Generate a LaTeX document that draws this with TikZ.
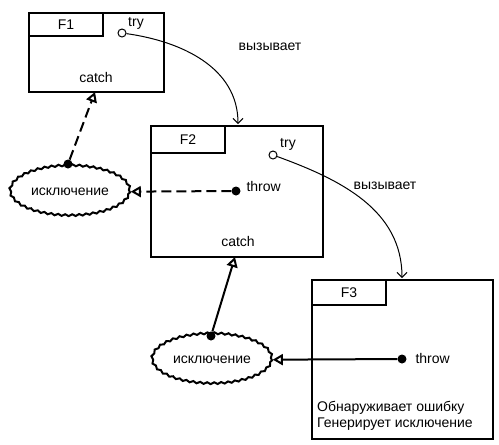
\documentclass[tikz,border=0pt]{standalone}
\usepackage{fontspec}
\setmainfont{Liberation Sans}
\usetikzlibrary{arrows.meta,shapes.geometric,decorations.pathmorphing}

\begin{document}
\begin{tikzpicture}
[x=1pt,y=-1pt,font=\fontsize{14}{16}\selectfont]
\tikzset{
	fbox/.style = {draw, line width=2pt, anchor=north west, inner sep=0},
	tabbox/.style = {draw, line width=2pt, anchor=north west, inner sep=0, minimum width=74pt, minimum height=25pt},
	trynode/.style = {circle, draw, line width=1pt, inner sep=0, minimum size=8pt, fill=white},
	dot/.style = {circle, fill, inner sep=0, minimum size=9pt},
	exc/.style = {ellipse, draw, line width=2pt, minimum width=116pt, minimum height=50pt, decorate, decoration={snake, amplitude=0.9pt, segment length=7pt}},
	call/.style = {-{Straight Barb[length=5pt,width=10pt]}, line width=1pt},
	raise/.style = {-{Triangle[open,length=10pt,width=11pt]}, line width=2pt},
	raisedash/.style = {raise, dash pattern=on 10pt off 5pt}
}
\useasboundingbox (0,0) rectangle (499,445);

% F1
\node[fbox, minimum width=135pt, minimum height=79pt] (F1) at (28,12) {};
\node[tabbox, minimum height=23pt] (F1tab) at (F1.north west) {F1};
\node[trynode] (F1try) at (122,33) {};
\node (F1trytext) at (136,23) {try};
\node (F1catch) at (96,77) {catch};
\coordinate (F1in) at (95,92);

% F2
\node[fbox, minimum width=172pt, minimum height=131pt] (F2) at (150,125) {};
\node[tabbox, minimum height=27pt] (F2tab) at (F2.north west) {F2};
\node[trynode] (F2try) at (273,155) {};
\node (F2trytext) at (288,144) {try};
\node[dot] (F2throw) at (236,191) {};
\node[anchor=west] (F2throwtext) at (243,186) {throw};
\node (F2catch) at (238,241) {catch};
\coordinate (F2in) at (238,124);
\coordinate (F2out) at (235,257);

% F3
\node[fbox, minimum width=181pt, minimum height=159pt] (F3) at (311,279) {};
\node[tabbox] (F3tab) at (F3.north west) {F3};
\node[dot] (F3throw) at (402,359) {};
\node[anchor=west] (F3throwtext) at (412,358) {throw};
\node[align=left, anchor=west, inner sep=0] (F3text) at (317,416) {Обнаруживает ошибку\\Генерирует исключение};
\coordinate (F3in) at (402,278);

% exceptions
\node[exc] (exc1) at (70,192) {исключение};
\node[dot] (exc1dot) at (68,164) {};
\node[exc] (exc2) at (212,360) {исключение};
\node[dot] (exc2dot) at (211,336) {};

% calls
\draw[call] (F1try) to[out=-8,in=90] (F2in);
\draw[call] (F2try) to[out=-20,in=90] (F3in);
\node (call1) at (270,47) {вызывает};
\node (call2) at (385,186) {вызывает};

% raised exceptions
\draw[raisedash] (F2throw) -- (exc1);
\draw[raisedash] (exc1dot) -- (F1in);
\draw[raise] (F3throw) -- (exc2);
\draw[raise] (exc2dot) -- (F2out);

\end{tikzpicture}
\end{document}
